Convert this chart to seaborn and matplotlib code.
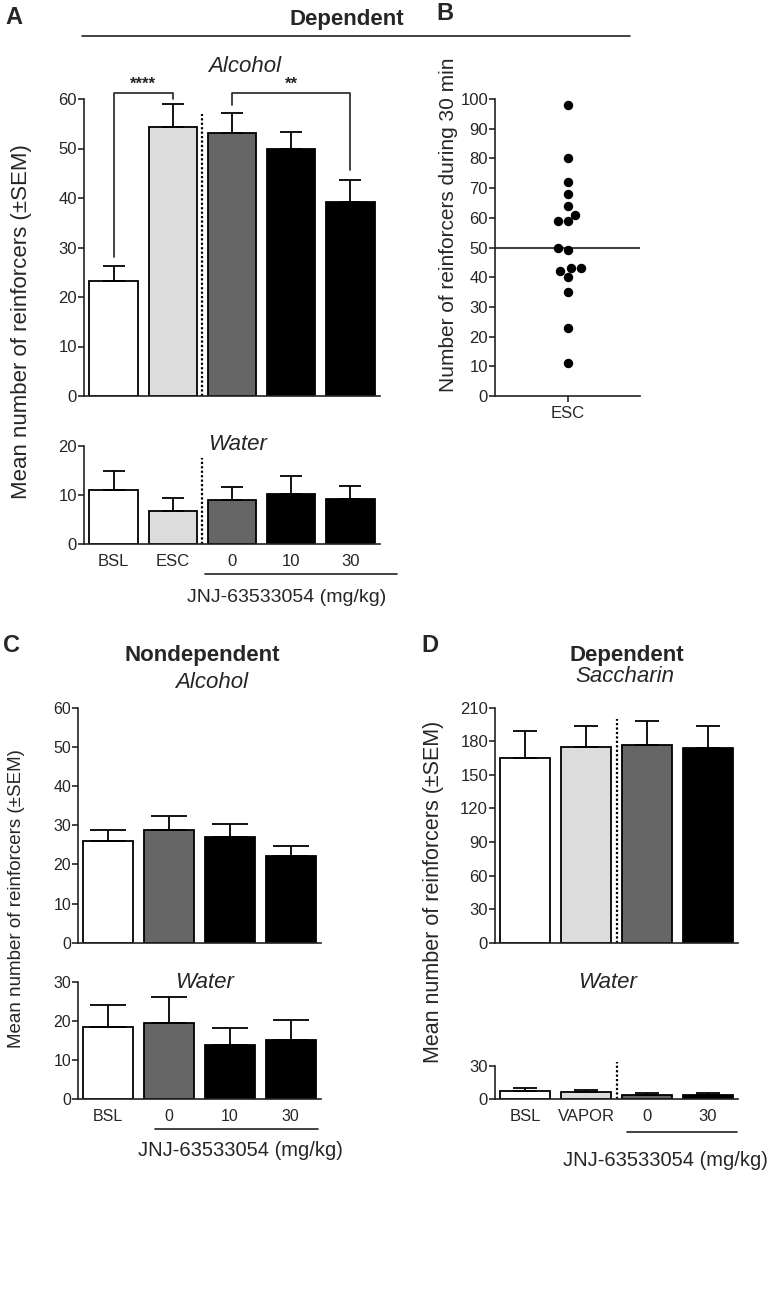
import matplotlib
matplotlib.use("Agg")
import matplotlib.pyplot as plt
from matplotlib.lines import Line2D
import numpy as np
import seaborn as sns

# ---- data ----
a_cats = ["BSL", "ESC", "0", "10", "30"]
a_alc_mean = [23.3, 54.3, 53.2, 49.8, 39.1]
a_alc_sem = [3.0, 4.6, 3.9, 3.5, 4.6]
a_wat_mean = [11.0, 6.8, 9.0, 10.3, 9.2]
a_wat_sem = [3.8, 2.6, 2.7, 3.5, 2.7]

b_cat = "ESC"
b_values = [98, 80, 72, 68, 64, 61, 59, 59, 50, 49, 43, 42, 40, 43, 35, 23, 11]

c_cats = ["BSL", "0", "10", "30"]
c_alc_mean = [25.9, 28.8, 27.0, 22.1]
c_alc_sem = [2.9, 3.5, 3.2, 2.6]
c_wat_mean = [18.5, 19.5, 14.0, 15.2]
c_wat_sem = [5.7, 6.7, 4.2, 5.2]

d_cats = ["BSL", "VAPOR", "0", "30"]
d_sac_mean = [165, 175, 177, 174]
d_sac_sem = [24.5, 19.0, 21.0, 20.0]
d_wat_mean = [7.5, 7.0, 4.0, 4.2]
d_wat_sem = [2.5, 1.8, 1.7, 1.5]

WHITE, LIGHT, DARK, BLACK = "#ffffff", "#dcdcdc", "#666666", "#000000"
a_colors = [WHITE, LIGHT, DARK, BLACK, BLACK]
c_colors = [WHITE, DARK, BLACK, BLACK]
d_colors = [WHITE, LIGHT, DARK, BLACK]

sns.set_style("ticks")
plt.rcParams["font.family"] = ["Liberation Sans", "DejaVu Sans"]
plt.rcParams["axes.linewidth"] = 1.2
plt.rcParams["axes.edgecolor"] = "#222222"

W, H = 775, 1300
fig = plt.figure(figsize=(W / 100, H / 100), dpi=100)


def box(x0, y_top, x1, y_bot):
    """ピクセル座標 -> figure座標のaxes矩形"""
    return [x0 / W, 1 - y_bot / H, (x1 - x0) / W, (y_bot - y_top) / H]


def ftext(x, y, s, **kw):
    fig.text(x / W, 1 - y / H, s, ha="center", va="center", **kw)


def fline(x0, x1, y, lw=1.2):
    fig.add_artist(Line2D([x0 / W, x1 / W], [1 - y / H] * 2,
                          transform=fig.transFigure, color="#222222", lw=lw))


def bar_panel(ax, cats, means, sems, colors, ylim, yticks, capsize,
              show_x=True, fs=12):
    sns.barplot(x=cats, y=means, hue=cats, palette=colors, saturation=1,
                edgecolor="black", linewidth=1.3, width=0.82, legend=False,
                errorbar=None, ax=ax)
    # 上側のみのSEMエラーバー
    ax.errorbar(range(len(cats)), means, yerr=[np.zeros(len(cats)), sems],
                fmt="none", ecolor="black", elinewidth=1.3, capsize=capsize,
                capthick=1.3, zorder=3)
    ax.set_ylim(*ylim)
    ax.set_xlim(-0.5, len(cats) - 0.5)
    ax.set_yticks(yticks)
    ax.set_xlabel("")
    ax.set_ylabel("")
    ax.tick_params(axis="y", length=4, width=1.2, pad=1, labelsize=fs)
    ax.tick_params(axis="x", length=0, pad=7, labelsize=fs)
    if not show_x:
        ax.set_xticklabels([])
    sns.despine(ax=ax)


# ---- Panel A ----
axA = fig.add_axes(box(84, 99, 380, 396))
bar_panel(axA, a_cats, a_alc_mean, a_alc_sem, a_colors, (0, 60),
          range(0, 61, 10), 8, show_x=False)
axA.vlines(1.5, 0, 57, colors="black", linestyles=(0, (1, 1)), lw=1.6)
# significance brackets
axA.plot([0, 0, 1, 1], [28, 61.3, 61.3, 60], color="#222222", lw=1.2,
         clip_on=False)
axA.plot([2, 2, 4, 4], [58.8, 61.3, 61.3, 45.6], color="#222222", lw=1.2,
         clip_on=False)
axA.text(0.5, 61.4, "****", ha="center", va="bottom", fontsize=12,
         fontweight="bold")
axA.text(3, 61.4, "**", ha="center", va="bottom", fontsize=12,
         fontweight="bold")

axAw = fig.add_axes(box(84, 446, 380, 544))
bar_panel(axAw, a_cats, a_wat_mean, a_wat_sem, a_colors, (0, 20),
          [0, 10, 20], 8)
axAw.vlines(1.5, 0, 17.5, colors="black", linestyles=(0, (1, 1)), lw=1.6,
            clip_on=False)

ftext(14, 18, "A", fontsize=17, fontweight="bold")
ftext(347, 20, "Dependent", fontsize=16, fontweight="bold")
fline(82, 630, 36)
ftext(245, 66, "Alcohol", fontsize=16, style="italic")
ftext(238, 445, "Water", fontsize=16, style="italic")
ftext(22, 322, "Mean number of reinforcers (\u00b1SEM)", fontsize=16,
      rotation=90)
fline(205, 397, 574)
ftext(287, 598, "JNJ-63533054 (mg/kg)", fontsize=14)

# ---- Panel B ----
axB = fig.add_axes(box(495, 99, 640, 396))
sns.swarmplot(x=[b_cat] * len(b_values), y=b_values, color="black", size=6.8,
              ax=axB)
axB.axhline(np.median(b_values), color="#444444", lw=1.5)
axB.set_ylim(0, 100)
axB.set_xlim(-0.5, 0.5)
axB.set_yticks(range(0, 101, 10))
axB.tick_params(axis="y", length=4, width=1.2, pad=1, labelsize=12)
axB.tick_params(axis="x", length=4, width=1.2, pad=3, labelsize=12)
sns.despine(ax=axB)
ftext(445, 14, "B", fontsize=17, fontweight="bold")
ftext(449, 225, "Number of reinforcers during 30 min", fontsize=15,
      rotation=90)

# ---- Panel C ----
axC = fig.add_axes(box(78, 707.7, 321, 942.7))
bar_panel(axC, c_cats, c_alc_mean, c_alc_sem, c_colors, (0, 60),
          range(0, 61, 10), 13, show_x=False, fs=11.5)
axCw = fig.add_axes(box(78, 982.3, 321, 1099.3))
bar_panel(axCw, c_cats, c_wat_mean, c_wat_sem, c_colors, (0, 30),
          [0, 10, 20, 30], 13, fs=11.5)

ftext(12, 646, "C", fontsize=17, fontweight="bold")
ftext(202, 655, "Nondependent", fontsize=16, fontweight="bold")
ftext(212, 683, "Alcohol", fontsize=16, style="italic")
ftext(205, 982, "Water", fontsize=16, style="italic")
ftext(17, 899, "Mean number of reinforcers (\u00b1SEM)", fontsize=13.5,
      rotation=90)
fline(155, 318, 1129)
ftext(240, 1150, "JNJ-63533054 (mg/kg)", fontsize=14.5)

# ---- Panel D ----
axD = fig.add_axes(box(495, 707.7, 738, 942.7))
bar_panel(axD, d_cats, d_sac_mean, d_sac_sem, d_colors, (0, 210),
          range(0, 211, 30), 8.5, show_x=False)
axD.vlines(1.5, 0, 200, colors="black", linestyles=(0, (1, 1)), lw=1.6)
axDw = fig.add_axes(box(495, 1066, 738, 1099.3))
bar_panel(axDw, d_cats, d_wat_mean, d_wat_sem, d_colors, (0, 30),
          [0, 30], 8.5)
axDw.vlines(1.5, 0, 34, colors="black", linestyles=(0, (1, 1)), lw=1.6,
            clip_on=False)

ftext(430, 646, "D", fontsize=17, fontweight="bold")
ftext(627, 655, "Dependent", fontsize=16, fontweight="bold")
ftext(625, 677, "Saccharin", fontsize=16, style="italic")
ftext(608, 982, "Water", fontsize=16, style="italic")
ftext(433, 892, "Mean number of reinforcers (\u00b1SEM)", fontsize=15.5,
      rotation=90)
fline(627, 737, 1132)
ftext(665, 1161, "JNJ-63533054 (mg/kg)", fontsize=14.5)

fig.savefig("out.png", dpi=100)
